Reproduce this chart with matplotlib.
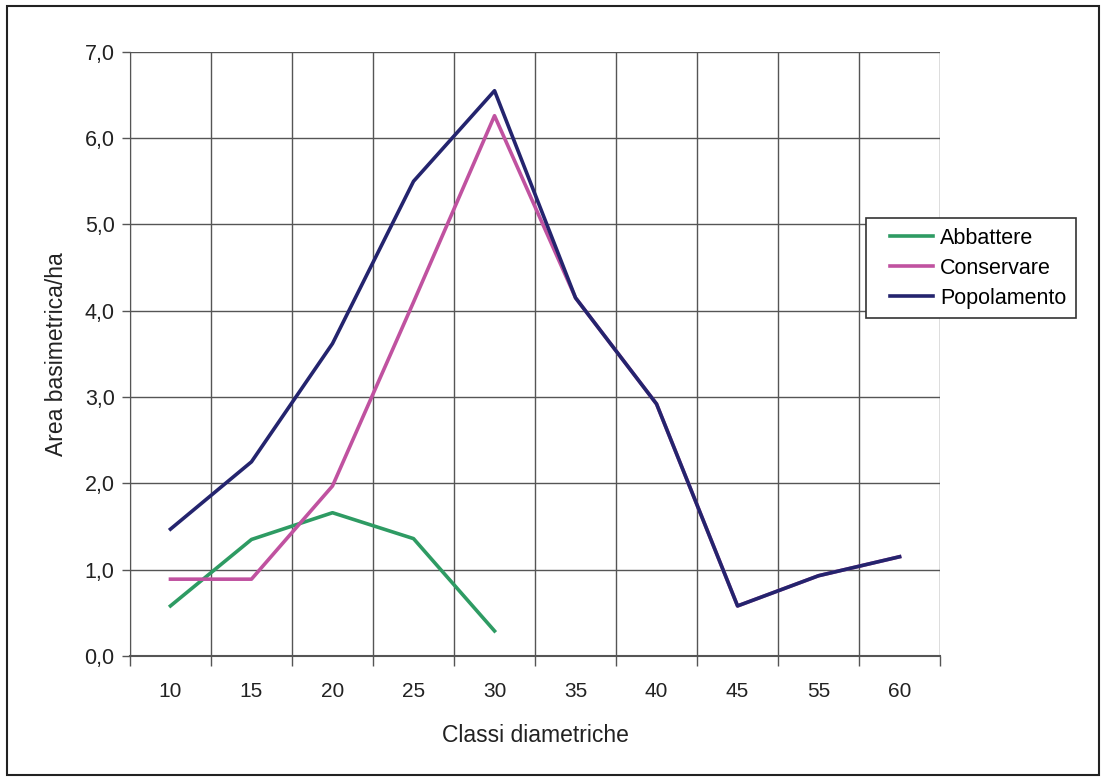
import numpy as np
import matplotlib.pyplot as plt
from matplotlib.ticker import FixedLocator, MultipleLocator, FuncFormatter
from matplotlib.patches import Rectangle
from matplotlib.lines import Line2D
from matplotlib.legend_handler import HandlerLine2D

plt.rcParams['font.family'] = ['Liberation Sans', 'DejaVu Sans']

# data
classi = ['10', '15', '20', '25', '30', '35', '40', '45', '55', '60']
abbattere = [0.58, 1.35, 1.66, 1.36, 0.29]
conservare = [0.89, 0.89, 1.97, 4.10, 6.26, 4.15, 2.92, 0.58, 0.93, 1.15]
popolamento = [1.47, 2.25, 3.62, 5.50, 6.55, 4.15, 2.92, 0.58, 0.93, 1.15]

fig = plt.figure(figsize=(11.06, 7.80), dpi=100)
# outer frame
fig.patches.append(Rectangle((0.006, 0.006), 0.988, 0.986, transform=fig.transFigure,
                             fill=False, edgecolor='#222222', linewidth=1.5))
ax = fig.add_axes([0.1175, 0.159, 0.7325, 0.7745])

x = np.arange(len(classi))
ax.plot(x[:len(abbattere)], abbattere, color='#2E9B63', linewidth=2.6, label='Abbattere')
ax.plot(x, conservare, color='#C052A0', linewidth=2.6, label='Conservare')
ax.plot(x, popolamento, color='#24246E', linewidth=2.6, label='Popolamento')

ax.set_xlim(-0.5, len(classi) - 0.5)
ax.set_ylim(0, 7)
ax.set_xticks(x)
ax.set_xticklabels(classi)
ax.xaxis.set_minor_locator(FixedLocator(np.arange(-0.5, len(classi), 1.0)))
ax.yaxis.set_major_locator(MultipleLocator(1))
ax.yaxis.set_major_formatter(FuncFormatter(lambda v, p: f'{v:.1f}'.replace('.', ',')))

ax.tick_params(axis='x', which='major', length=0, pad=19, labelsize=15, colors='#222222')
ax.tick_params(axis='x', which='minor', length=7, width=1, color='#555555')
ax.tick_params(axis='y', which='major', length=6, width=1, pad=5, labelsize=15.5,
               color='#555555', labelcolor='#222222')

ax.grid(True, axis='y', which='major', color='#555555', linewidth=1)
ax.grid(True, axis='x', which='minor', color='#555555', linewidth=1)
ax.set_axisbelow(True)
for side in ['top', 'right']:
    ax.spines[side].set_visible(False)
ax.spines['left'].set_color('#555555')
ax.spines['bottom'].set_color('#555555')
ax.spines['bottom'].set_linewidth(1.5)

ax.set_xlabel('Classi diametriche', fontsize=16.5, labelpad=16, color='#222222')
ax.set_ylabel('Area basimetrica/ha', fontsize=16.5, labelpad=12, color='#222222')

# legend: handle line pushed in from the frame edge like the original
leg = fig.legend(loc='upper left', bbox_to_anchor=(0.783, 0.7205), fontsize=15.5,
                 frameon=True, fancybox=False, edgecolor='#333333', framealpha=1,
                 borderaxespad=0, handlelength=2.65, handletextpad=0.33,
                 labelspacing=0.42, borderpad=0.45,
                 handler_map={Line2D: HandlerLine2D(xpad=0.65)})
leg.get_frame().set_linewidth(1.2)

fig.savefig('out.png', dpi=100)
